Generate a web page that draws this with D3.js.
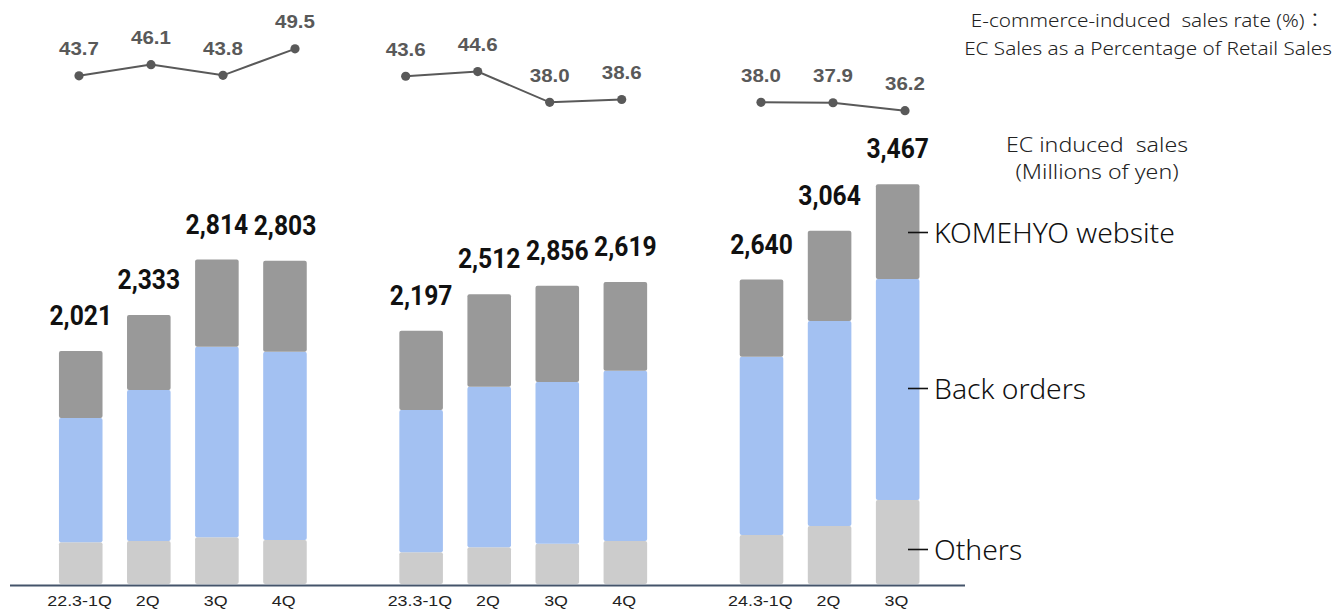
<!DOCTYPE html>
<html>
<head>
<meta charset="utf-8">
<script src="https://cdn.jsdelivr.net/npm/d3@7"></script>
<style>
  html, body { margin: 0; padding: 0; background: #fff; }
  svg { display: block; }
</style>
</head>
<body>
<svg id="chart" width="1342" height="609"></svg>
<script>
// ---------------- data ----------------
const quarters = ["22.3-1Q", "2Q", "3Q", "4Q", "23.3-1Q", "2Q", "3Q", "4Q", "24.3-1Q", "2Q", "3Q"];
const fiscalGroup = [0, 0, 0, 0, 1, 1, 1, 1, 2, 2, 2];
const others      = [362, 373, 405, 382, 275, 318, 350, 373, 425, 503, 729];
const backOrders  = [1078, 1310, 1653, 1633, 1234, 1393, 1402, 1477, 1546, 1778, 1917];
const komehyoWeb  = [581, 650, 756, 788, 688, 801, 835, 769, 669, 783, 821];
const totalLabels = ["2,021", "2,333", "2,814", "2,803", "2,197", "2,512", "2,856", "2,619", "2,640", "3,064", "3,467"];
const ecRate      = [43.7, 46.1, 43.8, 49.5, 43.6, 44.6, 38.0, 38.6, 38.0, 37.9, 36.2];
const seriesKeys  = ["others", "backOrders", "komehyoWeb"];
const seriesNames = ["Others", "Back orders", "KOMEHYO website"];
const rateTitle   = ["E-commerce-induced  sales rate (%)：", "EC Sales as a Percentage of Retail Sales"];
const salesTitle  = ["EC induced  sales", "(Millions of yen)"];

// ---------------- layout ----------------
const svg = d3.select("#chart");
const colors = { others: "#cccccc", backOrders: "#a3c1f2", komehyoWeb: "#999999" };

const rows = quarters.map((q, i) => ({
  i, q, g: fiscalGroup[i], slot: i + fiscalGroup[i],
  others: others[i], backOrders: backOrders[i], komehyoWeb: komehyoWeb[i],
  label: totalLabels[i], rate: ecRate[i]
}));

const x = d3.scaleBand()
  .domain(d3.range(13))
  .range([46.7, 931.7])
  .paddingInner(0.36)
  .paddingOuter(0.18);

const y = d3.scaleLinear().domain([0, 4000]).range([584, 584 - 4000 * 0.1153]);

const stacked = d3.stack().keys(seriesKeys)(rows);

// bars
svg.append("g").selectAll("g")
  .data(stacked)
  .join("g")
  .attr("fill", d => colors[d.key])
  .selectAll("rect")
  .data(d => d)
  .join("rect")
  .attr("x", d => x(d.data.slot))
  .attr("width", x.bandwidth())
  .attr("y", d => y(d[1]))
  .attr("height", d => y(d[0]) - y(d[1]))
  .attr("rx", 2);

// total labels
svg.append("g").selectAll("text")
  .data(rows)
  .join("text")
  .attr("transform", d => `translate(${x(d.slot) + x.bandwidth() / 2},${y(d.others + d.backOrders + d.komehyoWeb) - 26}) scale(0.88,1)`)
  .attr("text-anchor", "middle")
  .attr("font-family", "Roboto, 'Liberation Sans', sans-serif")
  .attr("font-weight", "bold")
  .attr("font-size", 28)
  .attr("fill", "#111")
  .text(d => d.label);

// axis
svg.append("line")
  .attr("x1", 10).attr("x2", 965)
  .attr("y1", 585.5).attr("y2", 585.5)
  .attr("stroke", "#44546a").attr("stroke-width", 2);

const axis = d3.axisBottom(x)
  .tickValues(rows.map(d => d.slot))
  .tickFormat(s => rows.find(r => r.slot === s).q)
  .tickSize(0)
  .tickPadding(11);

const axG = svg.append("g").attr("transform", "translate(-1.2,585)").call(axis);
axG.select(".domain").remove();
axG.selectAll("text")
  .attr("font-family", "'Liberation Sans', Arial, sans-serif")
  .attr("font-size", 14.5)
  .attr("fill", "#222")
  .attr("transform", "scale(1.23,1)");

// rate line chart
const groupStart = [79, 405.7, 761];
const rateY = d3.scaleLinear().domain([36, 50]).range([111.6, 46.5]);
const rateX = d => {
  const first = rows.findIndex(r => r.g === d.g);
  const sx = d3.scaleLinear().domain([0, 1]).range([groupStart[d.g], groupStart[d.g] + 72]);
  return sx(d.i - first);
};
const lineGen = d3.line().x(rateX).y(d => rateY(d.rate));
const groups = d3.groups(rows, d => d.g).map(d => d[1]);

const rateG = svg.append("g");
rateG.selectAll("path")
  .data(groups)
  .join("path")
  .attr("d", lineGen)
  .attr("fill", "none")
  .attr("stroke", "#595959")
  .attr("stroke-width", 2);
rateG.selectAll("circle")
  .data(rows)
  .join("circle")
  .attr("cx", rateX)
  .attr("cy", d => rateY(d.rate))
  .attr("r", 4.6)
  .attr("fill", "#595959");
rateG.selectAll("text")
  .data(rows)
  .join("text")
  .attr("transform", d => `translate(${rateX(d)},${rateY(d.rate) - 20.5}) scale(1.08,1)`)
  .attr("text-anchor", "middle")
  .attr("font-family", "'Liberation Sans', Arial, sans-serif")
  .attr("font-weight", "bold")
  .attr("font-size", 19)
  .attr("fill", "#595959")
  .text(d => d3.format(".1f")(d.rate));

// legend (labels beside the last bar)
const legendY = { komehyoWeb: 232.5, backOrders: 388.5, others: 549.5 };
const legG = svg.append("g");
seriesKeys.forEach((k, j) => {
  legG.append("line")
    .attr("x1", 908).attr("x2", 928)
    .attr("y1", legendY[k]).attr("y2", legendY[k])
    .attr("stroke", "#111").attr("stroke-width", 1.6);
  legG.append("text")
    .attr("x", 934)
    .attr("y", legendY[k])
    .attr("dy", "0.36em")
    .attr("font-family", "'Noto Sans', sans-serif")
    .attr("font-weight", 300)
    .attr("font-size", 28.3)
    .attr("fill", "#111")
    .text(seriesNames[j]);
});

// titles
svg.append("g").selectAll("text")
  .data(rateTitle)
  .join("text")
  .attr("transform", (d, i) => `translate(1148,${27 + i * 28}) scale(1.09,1)`)
  .attr("text-anchor", "middle")
  .attr("font-family", "'Noto Sans', 'Noto Sans CJK JP', sans-serif")
  .attr("font-weight", 300)
  .attr("font-size", 19)
  .attr("fill", "#222")
  .style("white-space", "pre")
  .text(d => d);

svg.append("g").selectAll("text")
  .data(salesTitle)
  .join("text")
  .attr("transform", (d, i) => `translate(1097,${152 + i * 27}) scale(1.13,1)`)
  .attr("text-anchor", "middle")
  .attr("font-family", "'Noto Sans', sans-serif")
  .attr("font-weight", 300)
  .attr("font-size", 20.5)
  .attr("fill", "#222")
  .style("white-space", "pre")
  .text(d => d);
</script>
</body>
</html>
